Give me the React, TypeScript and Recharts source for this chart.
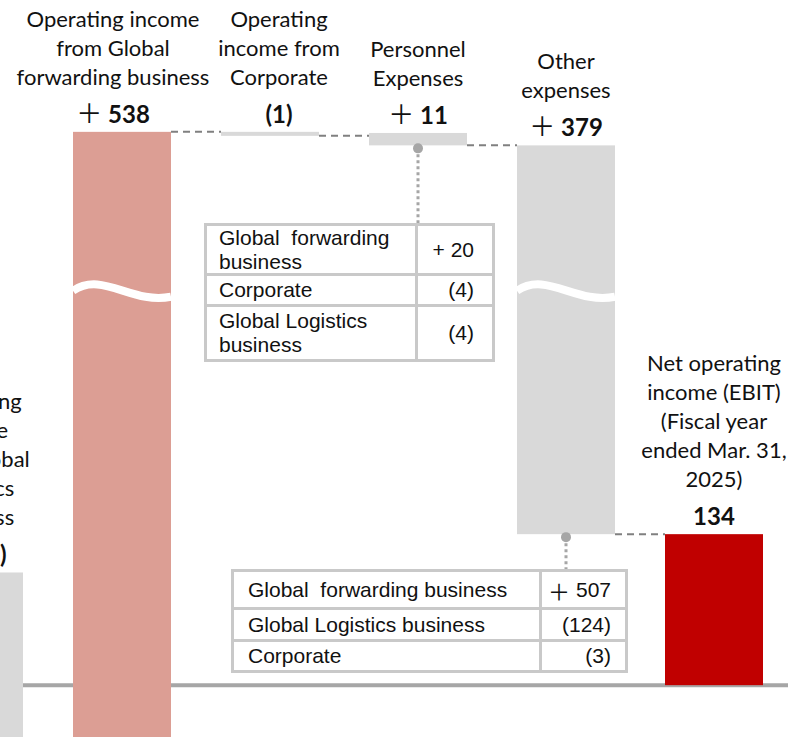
import { Bar, BarChart, CartesianGrid, XAxis, YAxis } from 'recharts'

const categories = [
  'Operating income from Global Logistics business',
  'Operating income from Global forwarding business',
  'Operating income from Corporate',
  'Personnel Expenses',
  'Other expenses',
  'Net operating income (EBIT) (Fiscal year ended Mar. 31, 2025)',
]
const labelLines = [
  ['Operating', 'income', 'from Global', 'Logistics', 'business'],
  ['Operating income', 'from Global', 'forwarding business'],
  ['Operating', 'income from', 'Corporate'],
  ['Personnel', 'Expenses'],
  ['Other', 'expenses'],
  ['Net operating', 'income (EBIT)', '(Fiscal year', 'ended Mar. 31,', '2025)'],
]
const valueLabels = ['(113)', '＋ 538', '(1)', '＋ 11', '＋ 379', '134']
const openingLevel = 100
const changes = [-113, 538, -1, -11, -379]
const closingTotal = 134
const barColors = ['#d9d9d9', '#dc9e94', '#d9d9d9', '#d9d9d9', '#d9d9d9', '#c00000']
const brokenBars = [1, 4]

const personnelBreakdown = [
  ['Global  forwarding business', '+ 20'],
  ['Corporate', '(4)'],
  ['Global Logistics business', '(4)'],
]
const otherBreakdown = [
  ['Global  forwarding business', '＋ 507'],
  ['Global Logistics business', '(124)'],
  ['Corporate', '(3)'],
]

// axis break: values above BREAK_AT are pulled down, bars under zero run off the slide
const BREAK_AT = 350
const BREAK_GAP = 34
const BELOW_ZERO_STRETCH = 40
const toDisplay = (v: number) => (v > BREAK_AT ? v - BREAK_GAP : v < 0 ? v - BELOW_ZERO_STRETCH : v)

const WIDTH = 790
const HEIGHT = 737
const MARGIN = { top: 0, right: 2, bottom: 0, left: -100 }
const BAR_SIZE = 98
const GAP = (WIDTH - MARGIN.left - MARGIN.right) / categories.length - BAR_SIZE
const LABEL_FONT = 'Lato, "Open Sans", sans-serif'
const TABLE_FONT = '"Liberation Sans", Arial, sans-serif'
const PLUS_FONT = '"Noto Sans CJK JP", "DejaVu Sans", sans-serif'
const calloutTableTop: Record<number, number> = { 3: 223, 4: 569 }
// text boxes on the slide are not all centred on their bars
const labelShift = [-1, -9, 9, 0, 0, 0]
const valueShift = [5, -9, 9, 0, 0, 0]

let level = openingLevel
const rows = categories.map((name, i) => {
  if (i === changes.length) {
    return { name, idx: i, range: [0, closingTotal].map(toDisplay), rising: true, next: false }
  }
  const start = level
  const end = level + changes[i]
  level = end
  return {
    name,
    idx: i,
    range: [toDisplay(Math.min(start, end)), toDisplay(Math.max(start, end))],
    rising: changes[i] > 0,
    next: true,
  }
})

// the full-width plus comes from a CJK face, like the slide
function splitPlus(text: string) {
  return text.startsWith('＋') ? ['＋', text.slice(1)] : [null, text]
}

function WaterfallShape(props: any) {
  const { x, y, width, height, payload } = props
  const i = payload.idx
  const rawH = Math.abs(height)
  const top = Math.min(y, y + height)
  const h = Math.max(rawH, 4)
  const bottom = top + h
  const cx = x + width / 2
  const tx = cx + labelShift[i]
  const [lo, hi] = payload.range
  const lines = labelLines[i]
  const valueY = top - 9
  const lastLineY = valueY - 38
  const [plus, rest] = splitPlus(valueLabels[i])

  let wave = null
  if (brokenBars.includes(i)) {
    const yb = top + ((hi - BREAK_AT) / (hi - lo)) * rawH
    wave = (
      <path
        d={`M${x},${yb} C${x + width * 0.3},${yb - 20} ${x + width * 0.6},${yb + 14} ${x + width},${yb + 6}`}
        stroke="#fff"
        strokeWidth={8}
        fill="none"
      />
    )
  }

  const tableTop = calloutTableTop[i]
  return (
    <g>
      <rect x={x} y={top} width={width} height={h} fill={barColors[i]} />
      {wave}
      {payload.next && (
        <line
          x1={x + width}
          x2={x + width + GAP}
          y1={payload.rising ? top : bottom}
          y2={payload.rising ? top : bottom}
          stroke="#808080"
          strokeWidth={2}
          strokeDasharray="7 5"
        />
      )}
      {tableTop != null && (
        <g>
          <line x1={cx} x2={cx} y1={bottom + 3} y2={tableTop} stroke="#a6a6a6" strokeWidth={3} strokeDasharray="3 3" />
          <circle cx={cx} cy={bottom + 3} r={5} fill="#a6a6a6" />
        </g>
      )}
      <text
        x={cx + valueShift[i]}
        y={valueY}
        textAnchor="middle"
        fontFamily={LABEL_FONT}
        fontSize={24}
        fontWeight={700}
        fill="#111"
      >
        {plus && (
          <tspan fontFamily={PLUS_FONT} fontWeight={400} fontSize={26}>
            {plus}
          </tspan>
        )}
        {rest}
      </text>
      {lines.map((line, k) => (
        <text
          key={k}
          x={tx}
          y={lastLineY - (lines.length - 1 - k) * 29}
          textAnchor="middle"
          fontFamily={LABEL_FONT}
          fontSize={22}
          fill="#111"
        >
          {line}
        </text>
      ))}
    </g>
  )
}

interface TableProps {
  items: string[][]
  left: number
  top: number
  width: number
  firstCol: number
  rowHeights: number[]
  padLeft: number
  padRight: number
}

function BreakdownTable({ items, left, top, width, firstCol, rowHeights, padLeft, padRight }: TableProps) {
  const border = '3px solid #c9c9c9'
  return (
    <div
      style={{
        position: 'absolute',
        left,
        top,
        width,
        border,
        boxSizing: 'border-box',
        background: '#fff',
        fontFamily: TABLE_FONT,
        fontSize: 21,
        lineHeight: '24px',
        color: '#111',
      }}
    >
      {items.map(([label, value], r) => {
        const [plus, rest] = splitPlus(value)
        return (
          <div key={r} style={{ display: 'flex', height: rowHeights[r], borderTop: r > 0 ? border : 'none' }}>
            <div
              style={{
                width: firstCol - 3,
                borderRight: border,
                display: 'flex',
                alignItems: 'center',
                paddingLeft: padLeft,
                boxSizing: 'border-box',
                whiteSpace: 'pre-wrap',
              }}
            >
              {label}
            </div>
            <div
              style={{
                flex: 1,
                display: 'flex',
                alignItems: 'center',
                justifyContent: 'flex-end',
                paddingRight: padRight,
                whiteSpace: 'pre',
              }}
            >
              {plus && <span style={{ fontFamily: PLUS_FONT, fontSize: 22 }}>{plus}</span>}
              {rest}
            </div>
          </div>
        )
      })}
    </div>
  )
}

export default function App() {
  return (
    <div style={{ position: 'absolute', left: 0, top: 0, width: WIDTH, height: HEIGHT, overflow: 'hidden', background: '#fff' }}>
      <BarChart width={WIDTH} height={HEIGHT} data={rows} margin={MARGIN} barSize={BAR_SIZE}>
        <XAxis dataKey="name" hide />
        <YAxis hide domain={[-46, 608]} allowDataOverflow />
        <CartesianGrid vertical={false} horizontalValues={[0]} stroke="#a6a6a6" strokeWidth={4} />
        <Bar dataKey="range" isAnimationActive={false} shape={WaterfallShape} />
      </BarChart>
      <BreakdownTable
        items={personnelBreakdown}
        left={204}
        top={223}
        width={291}
        firstCol={214}
        rowHeights={[47, 28, 52]}
        padLeft={12}
        padRight={18}
      />
      <BreakdownTable
        items={otherBreakdown}
        left={231}
        top={569}
        width={397}
        firstCol={311}
        rowHeights={[35, 29, 28]}
        padLeft={14}
        padRight={14}
      />
    </div>
  )
}
